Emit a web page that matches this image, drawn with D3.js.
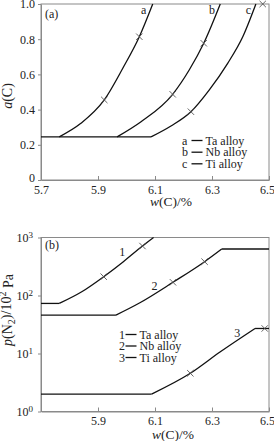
<!DOCTYPE html>
<html><head><meta charset="utf-8">
<script src="https://cdn.jsdelivr.net/npm/d3@7"></script>
<style>
body{margin:0;background:#fff;}
svg{display:block;font-family:"Liberation Serif","Times New Roman",serif;}
</style></head><body>
<script>
// ---- data ----
const wTicksA = [5.7, 5.9, 6.1, 6.3, 6.5];
const wTicksB = [5.9, 6.1, 6.3, 6.5];
const aTicks = [0, 0.2, 0.4, 0.6, 0.8, 1.0];
const pTicks = [1, 10, 100, 1000];
const alloyNames = ["Ta alloy", "Nb alloy", "Ti alloy"];
const letterKeys = ["a", "b", "c"];
const numberKeys = ["1", "2", "3"];

// panel (a): activity of carbon
const aFlat = 0.245;
const aTaW = [5.764, 5.840, 5.922, 5.987, 6.045, 6.092];
const aTaV = [0.245, 0.322, 0.455, 0.635, 0.814, 1.0];
const aNbW = [5.967, 6.051, 6.162, 6.220, 6.271, 6.329];
const aNbV = [0.245, 0.331, 0.487, 0.625, 0.777, 1.0];
const aTiW = [6.086, 6.156, 6.226, 6.290, 6.355, 6.408, 6.454];
const aTiV = [0.245, 0.307, 0.388, 0.511, 0.663, 0.814, 1.0];
const aMarkW = [5.922, 6.045, 6.162, 6.271, 6.226, 6.478];
const aMarkV = [0.455, 0.814, 0.487, 0.777, 0.388, 1.0];
const aLabelW = [6.060, 6.300, 6.428];

// panel (b): nitrogen pressure
const bTaW = [5.700, 5.764, 5.843, 5.920, 5.989, 6.056, 6.095];
const bTaV = [73, 73, 116, 211, 383, 713, 1000];
const bNbW = [5.700, 5.963, 6.047, 6.163, 6.274, 6.334, 6.500];
const bNbV = [46, 46, 75, 169, 383, 633, 633];
const bTiW = [5.700, 6.088, 6.224, 6.328, 6.451, 6.500];
const bTiV = [2.0, 2.0, 4.56, 10.6, 27, 27];
const bMarkW = [5.920, 6.056, 6.163, 6.274, 6.224, 6.485];
const bMarkV = [211, 713, 169, 383, 4.56, 27];
const bLabelW = [5.985, 6.098, 6.389];
const bLabelV = [480, 124, 19.2];

// ---- drawing ----
const W = 274, H = 441;
const FONT = '"Liberation Serif","Times New Roman",serif';
const svg = d3.select("body").append("svg").attr("width", W).attr("height", H).attr("font-family", FONT);
const axisCol = "#8a8a8a", textCol = "#222";

function zip(ws, vs){ return ws.map((w,i)=>({w, v: vs[i]})); }

function frame(g, x, y){
  const [x0,x1] = x.range(), [y0,y1] = y.range();
  g.append("rect").attr("x", x0).attr("y", y1).attr("width", x1-x0).attr("height", y0-y1)
   .attr("fill","none").attr("stroke", axisCol).attr("stroke-width",1);
}
function styleAxis(sel){
  sel.attr("font-family", FONT);
  sel.selectAll("path.domain").attr("stroke", axisCol);
  sel.selectAll(".tick line").attr("stroke", axisCol);
  sel.selectAll("text").attr("fill", textCol).attr("font-size", 12).attr("font-family", FONT);
}
function marks(g, pts, x, y){
  const s = 3.2;
  pts.forEach(p=>{
    const cx = x(p.w), cy = y(p.v);
    g.append("path").attr("d", `M${cx-s},${cy-s}L${cx+s},${cy+s}M${cx-s},${cy+s}L${cx+s},${cy-s}`)
      .attr("stroke","#555").attr("stroke-width",0.9).attr("fill","none");
  });
}
function legend(g, x0, ys, keys, lineStart, textStart){
  keys.forEach((k,i)=>{
    g.append("text").attr("x", x0).attr("y", ys[i]).attr("font-size",12).attr("fill",textCol).text(k);
    g.append("line").attr("x1", x0+lineStart).attr("x2", x0+lineStart+11).attr("y1", ys[i]-4).attr("y2", ys[i]-4)
      .attr("stroke","#111").attr("stroke-width",1.3);
    g.append("text").attr("x", x0+textStart).attr("y", ys[i]).attr("font-size",12).attr("fill",textCol).text(alloyNames[i]);
  });
}

// panel (a)
{
  const g = svg.append("g");
  const x = d3.scaleLinear().domain([5.7, 6.5]).range([41, 269]);
  const y = d3.scaleLinear().domain([0, 1]).range([180, 4]);
  frame(g, x, y);
  const gx = g.append("g").attr("transform","translate(0,180)")
    .call(d3.axisBottom(x).tickValues(wTicksA).tickSizeInner(-4).tickSizeOuter(0).tickPadding(5).tickFormat(d3.format(".1f")));
  styleAxis(gx);
  gx.selectAll(".tick").filter(d=>d===6.5).select("text").attr("dx","-2");
  const gy = g.append("g").attr("transform","translate(41,0)")
    .call(d3.axisLeft(y).tickValues(aTicks).tickSizeInner(3).tickSizeOuter(0).tickPadding(3)
      .tickFormat(d=> d===0 ? "0" : d3.format(".1f")(d)));
  styleAxis(gy);
  gy.selectAll(".tick").filter(d=>d===0).select("text").attr("dy","0.15em");

  const lineLin = d3.line().x(d=>x(d.w)).y(d=>y(d.v));
  const lineCurve = d3.line().x(d=>x(d.w)).y(d=>y(d.v)).curve(d3.curveMonotoneX);
  g.append("path").attr("d", lineLin([{w:5.7,v:aFlat},{w:aTiW[0],v:aFlat}]))
    .attr("fill","none").attr("stroke","#111").attr("stroke-width",1.3);
  [[aTaW,aTaV],[aNbW,aNbV],[aTiW,aTiV]].forEach(([ws,vs])=>{
    g.append("path").attr("d", lineCurve(zip(ws,vs)))
      .attr("fill","none").attr("stroke","#111").attr("stroke-width",1.3);
  });
  marks(g, zip(aMarkW, aMarkV), x, y);
  letterKeys.forEach((k,i)=>{
    g.append("text").attr("x", x(aLabelW[i])).attr("y", 14).attr("font-size",12)
      .attr("text-anchor","middle").attr("fill",textCol).text(k);
  });
  g.append("text").attr("x",45).attr("y",18).attr("font-size",12).attr("fill",textCol).text("(a)");
  legend(g, 182, [144.5, 156.2, 167.8], letterKeys, 9.5, 23.5);
  const xt = g.append("text").attr("x",171).attr("y",206).attr("text-anchor","middle").attr("font-size",13.5).attr("fill",textCol);
  xt.append("tspan").attr("font-style","italic").text("w");
  xt.append("tspan").text("(C)/%");
  const yt = g.append("text").attr("transform","translate(12,96) rotate(-90)").attr("text-anchor","middle").attr("font-size",14).attr("fill",textCol);
  yt.append("tspan").attr("font-style","italic").text("a");
  yt.append("tspan").text("(C)");
}

// panel (b)
{
  const g = svg.append("g");
  const x = d3.scaleLinear().domain([5.7, 6.5]).range([41, 269]);
  const y = d3.scaleLog().domain([1, 1000]).range([411.5, 237.5]);
  frame(g, x, y);
  const gx = g.append("g").attr("transform","translate(0,411.5)")
    .call(d3.axisBottom(x).tickValues(wTicksB).tickSizeInner(-4).tickSizeOuter(0).tickPadding(5).tickFormat(d3.format(".1f")));
  styleAxis(gx);
  gx.selectAll(".tick").filter(d=>d===6.5).select("text").attr("dx","-2");
  const gy = g.append("g").attr("transform","translate(41,0)")
    .call(d3.axisLeft(y).tickValues(pTicks).tickSizeInner(3).tickSizeOuter(0).tickPadding(5).tickFormat(()=>""));
  styleAxis(gy);
  gy.selectAll(".tick text").each(function(d){
    const t = d3.select(this);
    t.append("tspan").text("10");
    t.append("tspan").attr("dy","-0.45em").attr("font-size",9).text(String(Math.round(Math.log10(d))));
  });

  const lineCurve = d3.line().x(d=>x(d.w)).y(d=>y(d.v)).curve(d3.curveMonotoneX);
  const lineLin = d3.line().x(d=>x(d.w)).y(d=>y(d.v));
  [[bTaW,bTaV],[bNbW,bNbV],[bTiW,bTiV]].forEach(([ws,vs])=>{
    const pts = zip(ws,vs);
    g.append("path").attr("d", lineLin(pts.slice(0,2))).attr("fill","none").attr("stroke","#111").attr("stroke-width",1.3);
    const endFlat = vs[vs.length-1] === vs[vs.length-2];
    const rise = endFlat ? pts.slice(1, pts.length-1) : pts.slice(1);
    g.append("path").attr("d", lineCurve(rise)).attr("fill","none").attr("stroke","#111").attr("stroke-width",1.3);
    if (endFlat) g.append("path").attr("d", lineLin(pts.slice(pts.length-2))).attr("fill","none").attr("stroke","#111").attr("stroke-width",1.3);
  });
  marks(g, zip(bMarkW, bMarkV), x, y);
  numberKeys.forEach((k,i)=>{
    g.append("text").attr("x", x(bLabelW[i])).attr("y", y(bLabelV[i])).attr("font-size",12)
      .attr("text-anchor","middle").attr("fill",textCol).text(k);
  });
  g.append("text").attr("x",45).attr("y",249).attr("font-size",12).attr("fill",textCol).text("(b)");
  legend(g, 119, [338.5, 350, 361.5], numberKeys, 6.5, 20.5);
  const xt = g.append("text").attr("x",173).attr("y",439).attr("text-anchor","middle").attr("font-size",13.5).attr("fill",textCol);
  xt.append("tspan").attr("font-style","italic").text("w");
  xt.append("tspan").text("(C)/%");
  const yt = g.append("text").attr("transform","translate(12,310) rotate(-90)").attr("text-anchor","middle").attr("font-size",14).attr("fill",textCol);
  yt.append("tspan").attr("font-style","italic").text("p");
  yt.append("tspan").text("(N");
  yt.append("tspan").attr("font-size",10).attr("dy","0.3em").text("2");
  yt.append("tspan").attr("dy","-0.3em").text(")/10");
  yt.append("tspan").attr("font-size",10).attr("dy","-0.45em").text("2");
  yt.append("tspan").attr("dy","0.45em").text(" Pa");
}
</script>
</body></html>
